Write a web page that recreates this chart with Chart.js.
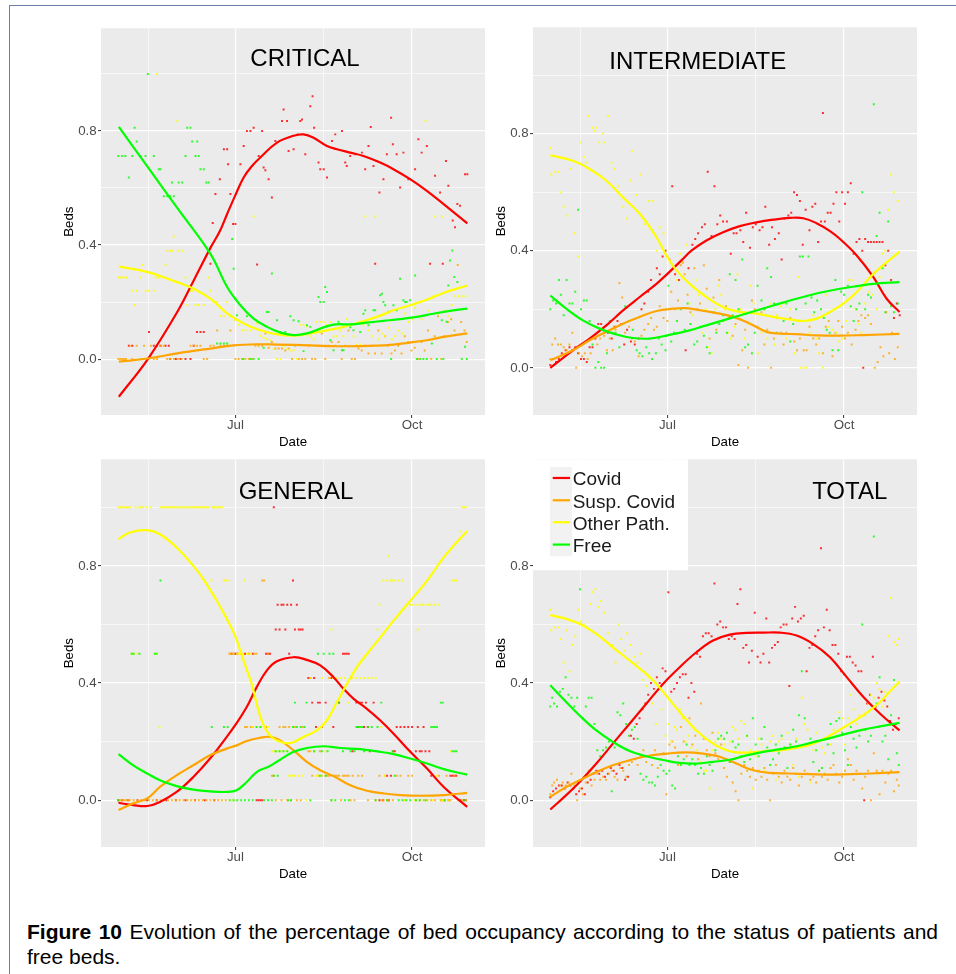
<!DOCTYPE html>
<html><head><meta charset="utf-8">
<script src="https://cdn.jsdelivr.net/npm/chart.js@4/dist/chart.umd.min.js"></script>
<style>
body{margin:0;background:#fff;width:956px;height:974px;position:relative;overflow:hidden;font-family:"Liberation Sans",Arial,sans-serif}
.frameTop{position:absolute;left:9px;top:5px;width:947px;height:1px;background:#6b7ea3}
.frameLeft{position:absolute;left:9px;top:5px;width:1px;height:969px;background:#6b7ea3}
canvas{position:absolute}
.cap{position:absolute;left:27px;width:911px;font-size:21px;line-height:24px;color:#000;white-space:nowrap}
.cap1{text-align:justify;text-align-last:justify;top:920px}
.cap2{top:945px}
</style></head><body>
<div class="frameTop"></div><div class="frameLeft"></div>
<div class="cap cap1"><b>Figure 10</b> Evolution of the percentage of bed occupancy according to the status of patients and</div>
<div class="cap cap2">free beds.</div>
<script>
// ---------- categories / ticks ----------
const seriesNames = ['Covid','Susp. Covid','Other Path.','Free'];
const seriesColors = ['#FF0000','#FFA500','#FFFF00','#00FF00'];
const pointColors = ['rgba(255,0,0,0.8)','rgba(255,165,0,0.8)','rgba(255,255,0,0.8)','rgba(0,255,0,0.8)'];
// x in days since 1 May
const xTickDays = [61,153];
const xTickLabels = ['Jul','Oct'];
const xMinorDays = [15.5,107];
const xRange = [-9,191];
const yMajor = [0,0.4,0.8];
const yMinor = [0.2,0.6,1.0];
const yRangeCrit = [-0.196,1.16];
const yRangeInter = [-0.161,1.163];
const yRangeGen = [-0.16,1.164];
const yRangeTot = [-0.16,1.164];

// ---------- CRITICAL ----------
const critCovidFit = [[0.3,-.132],[15.4,0],[30.7,.165],[39.3,.276],[48,.39],[53,.45],[56.7,.509],[61,.575],[65.3,.637],[70,.68],[74,.707],[82.7,.759],[91.3,.783],[96.5,.788],[101.7,.776],[108.7,.747],[113.9,.736],[120.8,.724],[127.7,.712],[136.4,.689],[143.3,.666],[152,.631],[160.7,.59],[169.3,.544],[181.8,.476]];
const critSuspFit = [[0.3,-.009],[15.4,.002],[30.7,.02],[48,.037],[60.1,.048],[72.3,.052],[82.7,.051],[100,.048],[117.3,.045],[134.7,.047],[143.3,.051],[152,.058],[160.7,.066],[169.3,.078],[181.8,.09]];
const critOtherFit = [[0.3,.325],[15.4,.305],[30.7,.27],[39.3,.247],[48,.212],[56.7,.16],[65.3,.125],[74,.101],[82.7,.087],[91.3,.082],[100,.09],[108.7,.101],[117.3,.113],[126,.13],[134.7,.148],[143.3,.171],[152,.189],[160.7,.208],[169.3,.232],[181.8,.258]];
const critFreeFit = [[0.3,.814],[15.4,.673],[30.7,.53],[48,.369],[56.7,.253],[63.6,.189],[70.5,.142],[77.5,.113],[84.4,.093],[91.3,.084],[98.3,.09],[105.2,.107],[112.1,.121],[120.8,.122],[129.5,.128],[138.1,.134],[146.8,.14],[155.5,.148],[164.1,.159],[172.8,.169],[181.8,.177]];
const critCovidPts = [[5.5,.047],[7.3,.047],[16,.095],[18.5,.047],[20,.047],[22,.047],[24.6,.047],[26.3,.047],[27,0],[30,0],[32.4,0],[35,0],[37.6,0],[39.3,.047],[41,.095],[42.8,.095],[44.5,.095],[48,.334],[49.2,.477],[50.6,.579],[52.9,.631],[55,.736],[56.7,.736],[57.2,.683],[58.4,.579],[59.8,.474],[61,.474],[63.6,.683],[65.3,.747],[67,.8],[68.8,.8],[70.5,.811],[72.3,.332],[73.1,.712],[74.9,.8],[75.7,.672],[76.6,.662],[78.3,.631],[80,.567],[81.8,.765],[85.3,.835],[86.1,.875],[87.9,.835],[88.7,.73],[91.3,.736],[93.4,.788],[94.8,.835],[95.7,.84],[97.4,.718],[100,.887],[101.2,.922],[102,.811],[104.3,.689],[105.2,.666],[107,.666],[108.7,.637],[111.3,.765],[113,.788],[116.5,.8],[118.2,.689],[119,.677],[120.8,.712],[123.4,.718],[126.9,.724],[128.6,.666],[130.3,.747],[131.5,.814],[132.9,.677],[133.8,.334],[134.7,.695],[136,.584],[138.1,.631],[139.9,.718],[142.1,.846],[143,.753],[145,.718],[146.8,.602],[148.5,.724],[151.1,.631],[154.6,.666],[156.3,.771],[158,.724],[160.7,.747],[162.4,.334],[165,.643],[167.6,.584],[169,.334],[170.7,.695],[171.9,.608],[174.2,.486],[175.4,.462],[176.6,.544],[178,.538],[180.6,.648],[181.8,.648]];
const critSuspPts = [[0,0],[1,0],[2,0],[3,0],[4,0],[6,.047],[7.3,0],[9.6,.047],[11.6,0],[13.4,.047],[15.4,0],[17,.047],[18.5,0],[20.2,0],[22,.047],[23.7,.047],[25.5,0],[27,0],[29,0],[31,0],[33,0],[37.6,.047],[39.3,.047],[41,.047],[42.8,.047],[44.5,0],[46.3,0],[48,.047],[49.7,.047],[51.5,.1],[53.2,.047],[55,.047],[56.7,.047],[58.4,.1],[61,0],[62.7,0],[64.4,0],[66.2,0],[68,0],[69.6,0],[71.4,.047],[73.1,.047],[74.9,.047],[76.6,.09],[78.3,.04],[80,.06],[81.8,.037],[83.5,.037],[85.3,.037],[87,.03],[88.7,.037],[90.5,0],[92.2,.047],[94,0],[95.7,0],[97.4,0],[99.1,.047],[100.9,0],[102.6,0],[104.3,.047],[106,.09],[107.8,0],[109.5,.047],[111.2,.06],[113,.047],[114.7,.06],[116.4,0],[118.2,.047],[119.9,.1],[121.6,0],[123.3,0],[125.1,.037],[126.8,.03],[128.5,.047],[130.3,.02],[132,.047],[133.7,.02],[135.4,.1],[137.2,.02],[138.9,.08],[140.6,.047],[142.3,.02],[144.1,.03],[145.8,.047],[147.5,.02],[149.2,.08],[151,.06],[152.7,.03],[154.4,.04],[156.1,0],[157.9,.06],[159.6,.03],[161.3,.1],[163,0],[164.8,.08],[166.5,.15],[168.2,0],[169.9,.08],[171.7,.13],[173.4,.14],[175.1,.1],[176.8,.33],[178.6,.13],[180.3,.1],[181.5,.06]];
const critOtherPts = [[0,.286],[1,.286],[2,.286],[3.7,.286],[4.5,.286],[7.3,.24],[8.5,.19],[9.6,.24],[11.6,.286],[12.5,.33],[14.2,.24],[16,.24],[18.5,.24],[19.4,.286],[20.2,1.0],[21.1,.286],[22.8,.286],[24.6,.33],[25.5,.38],[27,.38],[28,.38],[28.9,.43],[31.5,.38],[30.7,.835],[33.3,.38],[35,.286],[35.9,.19],[37.6,.24],[38.5,.24],[40.2,.19],[41.9,.19],[44.5,.19],[47.1,.286],[48,.24],[49.7,.2],[51.5,.2],[53.2,.15],[55,.15],[56.7,.2],[58.4,.15],[61,.136],[62.7,.12],[64.4,.1],[66.2,.101],[68.8,.1],[70.5,.5],[72.3,.125],[74,.082],[75.7,.075],[77.4,.07],[79.2,.065],[80.9,.035],[82.7,0],[84.4,0],[86.1,.045],[88,.035],[89.6,.03],[91.3,.03],[93,0],[95,.12],[96.5,.12],[98.3,.115],[100,.08],[101.7,.07],[103.4,.13],[105.2,.13],[107,.13],[108.7,.12],[110.4,.13],[112.1,.08],[113.8,.08],[115.6,.1],[117.3,.08],[119,.14],[120.8,.12],[122.5,.08],[124.2,.05],[126,.05],[127.7,.12],[128.6,.5],[130.3,.1],[132,.08],[133.8,.5],[135.5,.07],[137.3,.09],[139,.08],[140.7,.11],[142.4,.07],[144.2,.08],[146,.1],[147.7,.09],[149.4,.16],[151.1,.13],[152.9,.14],[154.6,.18],[156.3,.15],[158,.14],[160,.835],[161.6,.17],[163.3,.22],[165,.5],[166.7,.16],[168.5,.5],[170.2,.17],[172,.15],[173.7,.19],[175.4,.22],[177.1,.22],[179,.22],[181,.22]];
const critFreePts = [[0,.712],[2,.712],[3.7,.712],[5.5,.637],[7.3,.712],[8.5,.811],[9.6,.763],[11.6,.712],[14.2,.712],[15.4,1.0],[18.5,.712],[21.1,.666],[22,.666],[23.7,.571],[25.5,.571],[27,.571],[28.9,.571],[28,.619],[31.5,.619],[33.3,.619],[35,.712],[35.9,.811],[37.6,.811],[38.5,.763],[41.1,.763],[40.2,.712],[41.9,.712],[42.8,.666],[44.5,.666],[45.9,.619],[47.1,.619],[51.5,.055],[53.2,.055],[55,.055],[56.7,.055],[59.3,.421],[60.1,.317],[61,.212],[61.8,.154],[67,.15],[65.1,0],[68.8,0],[70.5,0],[73.1,0],[75.7,.04],[77.4,.165],[78.3,.165],[80,.3],[82.7,.136],[84.4,.095],[87,.095],[89.6,.15],[91.3,.136],[93.9,.133],[96.5,.028],[98.3,.119],[100,.113],[104.3,.218],[105.2,.2],[107,.2],[107.8,.253],[108.7,.235],[110.4,.066],[112.1,.031],[114.7,.131],[116.5,.031],[117.3,.031],[120.8,.112],[122.5,.101],[126,.095],[127.7,.159],[128.6,.171],[130.3,.119],[132.9,.171],[133.8,.171],[136.4,.224],[137.3,.229],[138.1,.2],[139,.189],[140.7,.166],[142.1,0],[143.3,.189],[145,.171],[146.8,.282],[148.5,.206],[149.4,.2],[150.2,.2],[152,.206],[154.6,.293],[155.5,0],[157.2,0],[158.9,0],[160.7,0],[163.3,.055],[165.9,0],[168.5,.136],[169.3,0],[171,.131],[171.9,.258],[172.8,.346],[174,.381],[175,.288],[176.6,.27],[178.9,0],[180.6,.043],[181.5,0]];

// ---------- INTERMEDIATE ----------
const interCovidFit = [[0,0],[11.8,.06],[20.5,.1],[29.2,.145],[37.9,.196],[46.6,.242],[55.3,.287],[61,.321],[68.3,.367],[73.5,.4],[81.3,.435],[90,.463],[98.7,.484],[107.4,.497],[116.1,.506],[124.8,.512],[131.8,.511],[138.7,.494],[145.7,.467],[150.9,.44],[159.6,.384],[168.3,.31],[175.2,.236],[181.9,.191]];
const interSuspFit = [[0,.026],[11.8,.06],[20.5,.094],[29.2,.123],[37.9,.151],[46.6,.174],[55.3,.194],[63.9,.202],[70,.204],[76.1,.199],[86.6,.187],[95.3,.174],[104,.151],[112.6,.123],[119.6,.117],[128.3,.115],[138.7,.111],[150.9,.11],[163.1,.112],[181.9,.116]];
const interOtherFit = [[0,.726],[11.8,.707],[20.5,.679],[29.2,.639],[37.9,.582],[46.6,.526],[55.3,.446],[61,.378],[65.7,.333],[72.6,.287],[81.3,.242],[90,.208],[98.7,.191],[107.4,.185],[116.1,.174],[124.8,.165],[131.8,.16],[138.7,.168],[145.7,.191],[152.6,.219],[159.6,.259],[168.3,.321],[181.9,.397]];
const interFreeFit = [[0,.247],[8.3,.202],[17,.162],[25.7,.134],[34.4,.114],[43.1,.102],[51.8,.1],[61,.111],[72.6,.128],[81.3,.145],[90,.162],[98.7,.179],[107.4,.196],[116.1,.213],[124.8,.23],[133.5,.245],[142.2,.259],[150.9,.27],[159.6,.279],[168.3,.287],[181.9,.293]];
const interCovidPts = [[0,.01],[1.5,.03],[3,.02],[4.5,.03],[6,.05],[8,.06],[10,.07],[11.5,.06],[13,.07],[14.5,.05],[16,.03],[17.5,.03],[19,.02],[20.5,.07],[22,.07],[23.5,.1],[25,.15],[26.5,.15],[28,.12],[30,.12],[32,.1],[33.5,.14],[35,.16],[37,.15],[38.5,.08],[40,.13],[42,.09],[44,.08],[46,.1],[47.5,.2],[49,.22],[51,.26],[52.5,.3],[54,.28],[55.5,.34],[57,.32],[58.5,.38],[60,.4],[62,.37],[63.5,.62],[65,.32],[67,.3],[69,.36],[70.5,.06],[72,.34],[74,.42],[75.5,.44],[77,.46],[79,.48],[80.5,.49],[82,.67],[84,.45],[85.5,.62],[87,.49],[88.5,.52],[90,.5],[92,.5],[94,.39],[95.5,.46],[97,.46],[99,.47],[100.5,.43],[102,.53],[104,.41],[105.5,.48],[107,.49],[109,.47],[110.5,.48],[112,.55],[114,.42],[115.5,.48],[117,.44],[119,.46],[120.5,.37],[122,.51],[124,.52],[125.5,.53],[127,.6],[128.5,.59],[130,.57],[131.5,.42],[133,.54],[135,.47],[136.5,.55],[138,.56],[139.5,.43],[141,.5],[142,.87],[143,.5],[144.5,.53],[146,.53],[147.5,.56],[149,.6],[150.5,.5],[152,.6],[153.5,.56],[155,.6],[156.5,.63],[158,.39],[159.5,.43],[161,.44],[162.5,.4],[163,0],[164,.44],[165.5,.43],[167,.43],[168.5,.43],[170,.43],[171.5,.43],[173,.43],[174.5,.35],[176,.4],[177.5,.3],[179,.17],[180.5,.22],[182,.18]];
const interSuspPts = [[0,.03],[1,.08],[2.5,.1],[4,.08],[5.5,.08],[7,.07],[8.5,.06],[10,.08],[11.5,.12],[13.5,0],[15,.05],[16.5,.04],[18,.05],[19.5,.03],[21,.05],[23,.1],[24.5,.08],[26,.1],[28,.11],[29.5,.06],[31,.1],[32.5,.06],[34,.13],[36,.29],[37.5,.24],[39,.12],[41,.14],[42.5,.1],[44,.09],[46,.04],[47.5,.11],[49,.13],[51,.15],[52.5,.17],[54,.13],[55.5,.14],[57,.21],[59,.17],[61,.16],[63,.26],[65,.2],[66.5,.23],[68,.35],[70,.32],[71.5,.25],[73,.19],[75,.34],[76.5,.2],[78,.22],[80,.35],[81.5,.27],[83,.1],[85,.24],[86.5,.13],[88,.3],[90,.16],[91.5,.21],[93,.17],[95,.11],[96.5,.15],[98,.01],[100,.06],[101.5,.13],[103,0],[105,.23],[106.5,.2],[108,.14],[110,.19],[111.5,.08],[113,.13],[115,0],[116.5,.1],[118,.17],[120,.12],[121.5,.08],[123,.12],[125,.17],[127,.09],[128.5,.06],[130,.1],[132,.06],[133.5,.06],[135,.14],[137,.1],[138.5,.08],[140,.1],[142,.05],[143.5,.14],[145,.16],[147,.04],[148.5,.12],[150,.16],[152,.14],[153.5,.1],[155,.12],[157,.08],[159,.13],[160.5,.16],[162,.18],[164,.17],[165.5,.18],[167,.15],[169,0],[170.5,.02],[172,.07],[173.5,.04],[175,.19],[176.5,.05],[178,.12],[179.5,.03],[181,.07]];
const interOtherPts = [[0,.75],[0.5,.66],[2.5,.67],[4,.67],[5.5,.6],[7,.55],[9,.52],[10.5,.68],[12.5,.46],[14.5,.38],[16,.77],[17.5,.72],[18.5,.7],[20,.86],[22,.82],[23,.81],[24,.82],[25.5,.77],[27.5,.8],[28.3,.77],[30,.86],[32,.7],[33.5,.68],[35.5,.62],[38,.55],[40,.51],[41.5,.64],[42.5,.74],[45,.59],[47,.66],[49,.49],[51.5,.57],[53.5,.57],[55.5,.4],[57,.48],[59,.46],[61,.38],[62.5,.36],[64,.34],[66,.3],[67.5,.39],[69,.36],[71,.42],[72.5,.22],[74,.18],[76,.3],[77.5,.25],[79,.12],[81,.2],[82.5,.07],[84,.05],[86,.2],[87.5,.28],[89,.25],[91,.2],[92.5,.12],[94,.1],[96,.14],[97.5,.32],[99,.2],[101,.1],[103,.15],[104.5,.28],[106,.22],[108,.05],[110,.12],[111.5,.2],[113,.1],[115,.22],[116.5,.08],[118,.18],[120,.21],[121.5,.22],[123,.1],[125,.2],[127,.05],[129,.31],[130.5,0],[132,0],[133.5,0],[135,.12],[137,.18],[138.5,.1],[140,.05],[142,0],[143.5,.25],[145,.14],[147,.13],[149,.12],[150.5,.09],[152,.1],[154,.16],[155.5,.3],[157,.3],[159,.2],[160.5,.15],[162,.12],[164,.22],[166,.26],[168,.25],[170,.2],[171.5,.31],[173,.39],[174.5,.4],[176,.54],[177.5,.66],[179,.6],[181,.57]];
const interFreePts = [[0,.2],[1.5,.23],[3,.22],[4.5,.3],[5.5,.25],[7,.18],[8.5,.3],[10,.22],[11.5,.22],[13,.26],[14.5,.54],[16,.2],[17.5,.23],[19,.23],[20.5,.16],[22,.08],[23.5,0],[25,.02],[26.5,0],[28,0],[29.5,.05],[31,.16],[32.5,.12],[34,.12],[36,.07],[37.5,.15],[39,.21],[41,.16],[43,.13],[45,.06],[46.5,.05],[48,.04],[50,.07],[51.5,.05],[53,.03],[55,.05],[56.5,.1],[58,.08],[60,.06],[61.5,.28],[63,.09],[64.5,.12],[66,.16],[68,.2],[70,.13],[71.5,.22],[73,.15],[75,.08],[76.5,.09],[78,.14],[80,.11],[81.5,.07],[83,.05],[85,.19],[86.5,.12],[88,.15],[90,.18],[92,.12],[93.5,.32],[95,.18],[96.5,.3],[98,.2],[100,.37],[101.5,.07],[103,.08],[105,.05],[106.5,.12],[108,.28],[110,.23],[111.5,.2],[113,.34],[115,.31],[116.5,.22],[118,.12],[120,.17],[121.5,.16],[123,.22],[125,.09],[126.5,.15],[128,.2],[130,.38],[131.5,.38],[133,.22],[134.5,.38],[136,.24],[137.5,.19],[139,.23],[141,.2],[142.5,.17],[144,.13],[145.5,.12],[147,.06],[148.5,.3],[150,.06],[151.5,.26],[153,.25],[155,.28],[156.5,.21],[158,.16],[159.5,.2],[161,.22],[162.5,.6],[164,.2],[165.5,.25],[167,.24],[168.5,.9],[170,.45],[171.5,.53],[173,.34],[174.5,.19],[176,.5],[177.5,.21],[179,.19],[181,.22]];

// ---------- GENERAL ----------
const genCovidFit = [[0.1,-.009],[7.8,-.017],[15.1,-.02],[21.7,-.006],[30.4,.028],[39.1,.079],[47.8,.142],[56.5,.216],[60.8,.255],[66.9,.318],[72.1,.386],[77.4,.443],[82.6,.474],[91.3,.488],[98.2,.479],[105.2,.46],[112.1,.42],[117.3,.38],[122.6,.346],[129.5,.312],[136.5,.272],[143.4,.227],[152.1,.165],[160.8,.108],[169.5,.045],[181.7,-.023]];
const genSuspFit = [[0.1,-.034],[7.8,-.011],[15.1,.006],[21.7,.045],[30.4,.085],[39.1,.119],[47.8,.153],[56.5,.176],[61.7,.187],[66.9,.202],[73.9,.213],[79.1,.216],[84.3,.204],[91.3,.17],[98.2,.131],[105.2,.102],[112.1,.082],[120.8,.051],[129.5,.032],[138.2,.023],[146.9,.017],[157.3,.015],[169.5,.017],[181.7,.025]];
const genOtherFit = [[0.1,.891],[6,.914],[15.1,.922],[21.7,.908],[30.4,.863],[39.1,.8],[44.3,.755],[51.3,.681],[56.5,.619],[60.8,.562],[65.2,.477],[69.5,.397],[72.1,.329],[74.7,.272],[78.2,.227],[82.6,.204],[89.5,.195],[96.5,.216],[103.4,.238],[108.6,.272],[113.9,.335],[119.1,.397],[124.3,.454],[129.5,.499],[136.5,.556],[143.4,.613],[152.1,.681],[160.8,.749],[169.5,.829],[181.7,.919]];
const genFreeFit = [[0.1,.157],[7.8,.119],[15.1,.091],[21.7,.068],[30.4,.048],[39.1,.036],[47.8,.03],[56.5,.028],[61.7,.034],[66.9,.062],[72.1,.096],[78.2,.114],[82.6,.131],[91.3,.165],[98.2,.178],[106.9,.184],[115.6,.178],[126,.174],[136.5,.165],[143.4,.157],[152.1,.142],[160.8,.125],[169.5,.106],[181.7,.087]];
const genCovidPts = [[0,0],[2,0],[5,0],[10,0],[15,0],[20,0],[25,0],[30,0],[35,0],[40,0],[45,0],[50,0],[58,.5],[59,.5],[60,.5],[61,.5],[62,.5],[64,.5],[66,.5],[68,.5],[70,.5],[72,0],[73,0],[74,0],[75,0],[77,.5],[78,.5],[79,.5],[81,1],[82,.583],[83,.667],[84,.583],[85,.667],[86,.667],[87,.583],[88,.667],[89,.5],[90,.667],[91,.75],[92,.583],[93,.667],[94,.583],[95,.583],[96,.583],[99,.417],[100,.417],[101,.333],[102,.417],[103,.25],[104,.333],[105,.333],[106,.25],[108,.333],[110,.417],[111,.417],[112,.25],[115,.333],[117,.5],[118,.5],[119,.5],[120,.5],[121,.417],[122,.167],[124,.333],[125,.25],[126,.333],[127,.333],[128,.25],[129,.333],[130,.25],[131,.167],[133,.333],[136,0],[138,0],[140,.083],[141,0],[142,.083],[143,.167],[144,.167],[145,.25],[147,.25],[149,.25],[151,.25],[152,.167],[153,.25],[155,.167],[156,.25],[157,.167],[158,.167],[159,.25],[160,.167],[162,.167],[163,.083],[168,0],[170,0],[172,0],[173,.083],[174,.083],[175,.083],[176,.083],[178,0],[180,0],[181,0]];
const genSuspPts = [[0,0],[1,0],[2,0],[3,0],[4,0],[5,0],[6,0],[8,0],[10,0],[12,0],[14,0],[16,0],[18,0],[20,0],[22,0],[24,0],[26,0],[28,0],[30,0],[32,0],[34,0],[36,0],[38,0],[40,0],[42,0],[44,0],[46,0],[48,0],[50,0],[52,0],[54,0],[56,0],[59,.5],[62,.5],[64,.5],[66,.25],[67,.25],[68,.5],[69,.25],[70,.25],[71,.5],[72,.5],[74,.25],[75,.75],[76,.75],[77,.25],[78,.5],[80,.083],[81,.083],[82,0],[84,.25],[85,0],[86,.25],[87,.25],[88,0],[89,.25],[90,0],[92,.25],[93,0],[95,0],[96,.25],[99,.167],[100,.167],[101,.083],[102,.167],[104,.083],[105,.167],[106,.083],[108,.083],[109,.083],[110,.083],[111,0],[112,.083],[113,.083],[114,.083],[115,.083],[116,0],[117,.083],[118,.083],[119,.083],[120,.083],[121,0],[122,.083],[123,0],[125,.083],[127,.083],[130,0],[134,0],[136,.083],[137,0],[138,0],[139,.083],[140,0],[141,0],[143,0],[145,.083],[147,.083],[149,0],[151,.083],[153,.083],[155,0],[157,0],[159,0],[161,0],[163,0],[165,0],[167,.083],[169,0],[171,.083],[173,0],[175,.083],[177,0],[179,0],[181,0]];
const genOtherPts = [[0,1],[1,1],[2,1],[3,1],[4,1],[5,1],[6,1],[7,.5],[8,.5],[9,1],[10,.5],[11,1],[12,1],[13,1],[15,1],[17,1],[19,.5],[20,.5],[21.5,.25],[22,1],[23,1],[24,1],[25,1],[26,1],[27,1],[28,1],[29,1],[30,1],[31,1],[32,1],[33,1],[34,1],[35,1],[36,1],[37,1],[38,1],[39,1],[40,1],[41,1],[42,1],[43,1],[44,1],[45,1],[46,1],[47,1],[48.5,.75],[49,1],[50,1],[51,1],[52,1],[53,1],[54,1],[55,.75],[56,.75],[57,.75],[58,.5],[59,0],[60,.5],[61,0],[62,.5],[63,.5],[64,.5],[65,.5],[66,.75],[67,.5],[68,.5],[69,.5],[70,.25],[72,.25],[74,.25],[76,.25],[78,.25],[80,.167],[81,.167],[82,.167],[84,.167],[86,.167],[88,.167],[89,.083],[90,.083],[91,.083],[92,.083],[94,.083],[96,.083],[98,0],[100,.417],[102,.167],[103,.083],[104,.083],[105,.083],[106,.417],[108,.167],[110,.417],[111,.583],[112,.417],[114,.417],[116,.417],[118,.417],[120,.333],[121,.417],[122,.417],[124,.417],[126,.417],[128,.417],[130,.417],[132,.417],[134,.417],[135,.583],[136,.667],[137,.25],[138,.75],[139,.083],[140,.75],[141,.833],[142,.75],[143,.75],[144,.75],[146,.75],[148,.75],[149,0],[150,.667],[151,.167],[152,.667],[153,.667],[154,0],[155,.667],[156,.583],[157,.667],[158,.667],[159,.667],[160,0],[161,.667],[162,.667],[163,.667],[164,0],[165,.667],[166,.083],[167,.667],[168,0],[169,0],[170,0],[172,0],[173,.167],[174,.75],[175,.75],[176,.75],[177,0],[178,.917],[179,1],[180,1],[181,1]];
const genFreePts = [[0,0],[7,.5],[8,.5],[11,.5],[19,.5],[20,.5],[22,.75],[48.7,.25],[55,.25],[57,.25],[58,0],[60,0],[62,0],[64,0],[66,0],[68,0],[70,0],[72,.25],[74,.25],[76,0],[78,0],[80,0],[81,.083],[82,.167],[83,.083],[84,.167],[86,.167],[88,.167],[88.5,0],[90,0],[91,.25],[92,.333],[93,.25],[95,.25],[97,.25],[98,.333],[100,0],[102,.167],[104,.5],[105,.083],[106,.167],[107,.5],[108,.083],[109,.167],[110,.5],[111,0],[112,.5],[113,0],[115,.333],[117,.167],[118,0],[120,0],[121,.167],[123,.167],[124,.25],[125,.25],[126,.25],[127,.25],[128,.167],[130,.25],[132,.25],[134,0],[135,.25],[137,.333],[140,0],[143,.167],[144,.083],[146,0],[148,0],[150,0],[152,0],[155,0],[157,0],[160,0],[163,.25],[164,.25],[165,.25],[166,.25],[168,.333],[169,.333],[170,0],[174,.167],[175,.167],[176,.167],[180,0]];

// ---------- TOTAL ----------
const totCovidFit = [[0,-.032],[8.3,.017],[15.3,.062],[24,.125],[32.6,.193],[41.3,.261],[50,.329],[58.7,.397],[67.4,.454],[76.1,.505],[84.8,.545],[93.5,.565],[102.2,.571],[110.9,.572],[119.6,.572],[128.3,.562],[137,.533],[145.7,.488],[154.4,.42],[163.1,.352],[171.8,.295],[181.9,.238]];
const totSuspFit = [[0,.011],[8.3,.045],[15.3,.068],[24,.096],[32.6,.119],[41.3,.136],[50,.15],[61,.159],[70,.163],[79.6,.159],[88.3,.148],[96.9,.125],[105.7,.102],[114.4,.093],[124.8,.091],[135.3,.089],[145.7,.087],[156.2,.089],[166.6,.091],[181.9,.096]];
const totOtherFit = [[0,.632],[8.3,.619],[15.3,.602],[24,.568],[32.6,.522],[41.3,.477],[50,.431],[55.3,.397],[61,.352],[67.4,.301],[76.1,.238],[84.8,.193],[93.5,.167],[102.2,.162],[110.9,.167],[119.6,.17],[128.3,.178],[137,.193],[145.7,.221],[154.4,.255],[163.1,.29],[171.8,.335],[176,.365],[181.9,.405]];
const totFreeFit = [[0,.392],[8.3,.335],[15.3,.289],[24,.238],[32.6,.199],[41.3,.168],[50,.15],[61,.134],[67.4,.127],[76.1,.125],[84.8,.131],[93.5,.138],[102.2,.153],[110.9,.165],[119.6,.174],[128.3,.184],[137,.198],[145.7,.212],[154.4,.227],[163.1,.241],[171.8,.252],[181.9,.264]];
const totCovidPts = [[0,.01],[1.5,.03],[3,.04],[4.5,.05],[6,.05],[7.5,.04],[9,.06],[10.5,.05],[12,.04],[13.5,.02],[15,.03],[16.5,.04],[18,.02],[19.5,.06],[21,.07],[22.5,.09],[24,.1],[25.5,.09],[27,.1],[28.5,.08],[30,.09],[31.5,.11],[33,.1],[34.5,.09],[36,.12],[37.5,.11],[39,.07],[40.5,.08],[42,.22],[43.5,.21],[45,.26],[46.5,.28],[48,.31],[49.5,.33],[51,.36],[52.5,.4],[54,.38],[55.5,.42],[57,.4],[58.5,.45],[60,.44],[61.5,.71],[63,.37],[64.5,.38],[66,.4],[67.5,.42],[69,.43],[70.5,.43],[72,.35],[73.5,.4],[75,.37],[76.5,.5],[78,.49],[79.5,.56],[81,.57],[82.5,.57],[84,.56],[85.5,.74],[87,.6],[88.5,.61],[90,.59],[91.5,.59],[93,.55],[94.5,.56],[96,.55],[97.5,.67],[99,.72],[100.5,.52],[102,.53],[103.5,.47],[105,.51],[106.5,.64],[108,.49],[109.5,.47],[111,.5],[112.5,.62],[114,.47],[115.5,.52],[117,.53],[118.5,.54],[120,.59],[121.5,.6],[123,.6],[124.5,.39],[126,.62],[127.5,.66],[129,.61],[130.5,.62],[132,.63],[133.5,.44],[135,.52],[136.5,.53],[138,.56],[139.5,.58],[141,.86],[142.5,.59],[144,.65],[145.5,.58],[147,.53],[148.5,.53],[150,.5],[151.5,.44],[153,.43],[154.5,.49],[156,.49],[157.5,.47],[159,.46],[160.5,.44],[162,.44],[163.5,0],[165,.33],[166.5,.36],[168,.49],[169.5,.32],[171,.35],[172.5,.37],[174,.34],[175.5,.32],[177,.27],[178.5,.24],[180,.26],[181.5,.28]];
const totSuspPts = [[0,.02],[1,.05],[2,.06],[3.5,.07],[5,.05],[6.5,.06],[8,.05],[9.5,.06],[11,.09],[12.5,.05],[14,0],[15.5,.04],[17,.02],[18.5,.06],[20,.1],[21.5,.05],[23,.07],[24.5,.09],[26,.07],[27.5,.08],[29,.07],[30.5,.09],[32,.1],[33.5,.08],[35,.07],[36.5,.11],[38,.1],[39.5,.08],[41,.12],[42.5,.13],[44,.14],[45.5,.12],[47,.15],[48.5,.17],[50,.13],[51.5,.15],[53,.12],[54.5,.17],[56,.11],[57.5,.14],[59,.16],[60.5,.02],[62,.19],[63.5,.2],[65,.18],[66.5,.12],[68,.25],[69.5,.2],[71,.15],[72.5,.28],[74,.19],[75.5,.22],[77,.14],[78.5,.33],[80,.21],[81.5,.17],[83,.15],[84.5,.23],[86,.16],[87.5,.14],[89,.19],[90.5,.11],[92,.08],[93.5,.13],[95,.06],[96.5,.03],[98,0],[99.5,.09],[101,.12],[102.5,.1],[104,.08],[105.5,.11],[107,.07],[108.5,.1],[110,.08],[111.5,.11],[113,.07],[114.5,0],[116,.09],[117.5,.12],[119,.08],[120.5,.06],[122,.1],[123.5,.08],[125,.07],[126.5,.11],[128,.09],[129.5,.05],[131,.08],[132.5,.1],[134,.09],[135.5,.07],[137,.08],[138.5,.06],[140,.1],[141.5,.08],[143,.09],[144.5,.07],[146,.11],[147.5,.12],[149,.09],[150.5,.06],[152,.08],[153.5,.1],[155,.14],[156.5,.12],[158,.07],[159.5,.1],[161,.09],[162.5,.04],[164,.08],[165.5,.1],[167,0],[168.5,.16],[170,.1],[171.5,.02],[173,.1],[174.5,.06],[176,.09],[177.5,.1],[179,.03],[180.5,.07],[181.5,.05]];
const totOtherPts = [[0,.65],[0.5,.58],[2.5,.59],[4,.59],[5.5,.55],[7,.47],[8.5,.58],[10,.44],[11.5,.53],[13,.56],[14.5,.65],[16,.61],[17.5,.6],[19,.59],[21,.67],[22,.71],[23.5,.72],[25,.66],[26.5,.68],[28,.64],[30,.57],[32.5,.53],[34,.47],[35.5,.6],[37,.55],[38.5,.51],[40,.57],[42,.53],[44,.49],[45.5,.47],[47,.5],[48.5,.41],[50,.39],[51.5,.42],[53,.33],[55,.26],[56.5,.38],[58,.31],[60,.22],[61.5,.26],[63,.2],[64.5,.25],[66,.24],[67.5,.31],[69,.28],[70.5,.2],[72,.22],[73.5,.18],[75,.24],[76.5,.17],[78,.13],[80,.1],[81.5,.1],[83,.04],[84.5,.17],[86,.2],[87.5,.23],[89,.21],[90.5,.19],[92,.14],[93.5,.2],[95,.25],[96.5,.24],[98,.21],[99.5,.27],[101,.26],[102.5,.22],[104,.17],[105.5,.04],[107,.15],[108.5,.21],[110,.19],[111.5,.1],[113,.17],[114.5,.2],[116,.22],[117.5,.07],[119,.2],[120.5,.21],[122,.18],[123.5,.23],[125,.19],[126.5,.12],[128,.21],[129.5,.08],[131,.35],[132.5,.26],[134,.24],[135.5,.06],[137,.17],[138.5,.23],[140,.2],[141.5,.18],[143,.16],[144.5,.21],[146,.19],[147.5,.24],[149,.22],[150.5,.3],[152,.28],[153.5,.19],[155,.28],[156.5,.36],[158,.31],[159.5,.26],[161,.29],[162.5,.24],[164,.29],[165.5,.33],[167,.36],[168.5,.35],[170,.4],[171.5,.38],[173,.32],[174.5,.37],[176,.56],[177.5,.69],[179,.54],[180.5,.53],[181.5,.55]];
const totFreePts = [[0,.32],[1,.35],[2,.33],[3.5,.32],[5,.37],[6.5,.38],[8,.42],[9.5,.36],[11,.35],[12.5,.32],[14,.35],[15.5,.72],[17,.28],[18.5,.32],[20,.35],[21.5,.35],[23,.26],[24.5,.17],[26,.15],[27.5,.17],[29,.18],[30.5,.2],[32,.03],[33.5,.18],[35,.3],[36.5,.29],[38,.33],[39.5,.26],[41,.22],[42.5,.24],[44,.25],[45.5,.21],[47,.09],[48.5,.07],[50,.08],[51.5,.06],[53,.06],[54.5,.05],[56,.08],[57.5,.12],[59,.1],[60.5,.09],[62,.1],[63.5,.05],[65,.04],[66.5,.15],[68,.12],[69.5,.14],[71,.19],[72.5,.12],[74,.14],[75.5,.12],[77,.09],[78.5,.11],[80,.09],[81.5,.15],[83,.12],[84.5,.1],[86,.17],[87.5,.21],[89,.22],[90.5,.21],[92,.23],[93.5,.13],[95,.2],[96.5,.18],[98,.19],[99.5,.15],[101,.13],[102.5,.22],[104,.14],[105.5,.28],[107,.19],[108.5,.15],[110,.21],[111.5,.25],[113,.18],[114.5,.12],[116,.14],[117.5,.19],[119,.16],[120.5,.22],[122,.18],[123.5,.11],[125,.19],[126.5,.24],[128,.2],[129.5,.29],[131,.44],[132.5,.28],[134,.19],[135.5,.21],[137,.13],[138.5,.17],[140,.1],[141.5,.11],[143,.21],[144.5,.19],[146,.26],[147.5,.16],[149,.27],[150.5,.28],[152,.23],[153.5,.17],[155,.12],[156.5,.25],[158,.21],[159.5,.18],[161,.22],[162.5,.6],[164,.24],[165.5,.2],[167,.22],[168.5,.9],[170,.33],[171.5,.42],[173,.2],[174.5,.22],[176,.14],[177.5,.29],[179,.41],[180.5,.16],[181.5,.12]];

// ---------- layout (page pixels) ----------
const FONT = '"Liberation Sans", Arial, sans-serif';
const panels = [
  {title:'CRITICAL', area:[101,27,485,415], titleAt:[204,37.3], yr:yRangeCrit,
   fits:[critCovidFit,critSuspFit,critOtherFit,critFreeFit], pts:[critCovidPts,critSuspPts,critOtherPts,critFreePts]},
  {title:'INTERMEDIATE', area:[533,26,917,415], titleAt:[164.7,41.3], yr:yRangeInter,
   fits:[interCovidFit,interSuspFit,interOtherFit,interFreeFit], pts:[interCovidPts,interSuspPts,interOtherPts,interFreePts]},
  {title:'GENERAL', area:[101,458,485,847], titleAt:[195,39.3], yr:yRangeGen,
   fits:[genCovidFit,genSuspFit,genOtherFit,genFreeFit], pts:[genCovidPts,genSuspPts,genOtherPts,genFreePts]},
  {title:'TOTAL', area:[533,458,917,847], titleAt:[316.7,39.3], yr:yRangeTot, legend:true,
   fits:[totCovidFit,totSuspFit,totOtherFit,totFreeFit], pts:[totCovidPts,totSuspPts,totOtherPts,totFreePts]}
];

const toXY = a => a.map(([x,y]) => ({x, y}));
const near = (v, arr) => arr.some(a => Math.abs(a - v) < 1e-6);

function makePanel(p){
  const [L,T,R,B] = p.area;
  const W = R - L + 90, H = B - T + 53;
  const cv = document.createElement('canvas');
  cv.width = W; cv.height = H;
  cv.style.left = (L - 80) + 'px'; cv.style.top = (T - 8) + 'px';
  cv.style.width = W + 'px'; cv.style.height = H + 'px';
  document.body.appendChild(cv);

  const datasets = [];
  p.fits.forEach((f, i) => datasets.push({
    label: seriesNames[i], data: toXY(f), showLine: true, borderColor: seriesColors[i],
    backgroundColor: seriesColors[i], borderWidth: 2.2, pointRadius: 0, tension: 0.4,
    cubicInterpolationMode: 'default', order: 3 - i
  }));
  p.pts.forEach((s, i) => datasets.push({
    label: seriesNames[i] + ' pts', data: toXY(s), showLine: false, backgroundColor: pointColors[i],
    borderWidth: 0, pointRadius: 1.4, pointStyle: 'rect', order: 13 - i
  }));

  const deco = {
    id: 'deco',
    beforeDraw(chart){
      const a = chart.chartArea, c = chart.ctx;
      c.save(); c.fillStyle = '#EBEBEB'; c.fillRect(a.left, a.top, a.right - a.left, a.bottom - a.top); c.restore();
    },
    afterDraw(chart){
      const a = chart.chartArea, c = chart.ctx;
      c.save();
      if (p.legend) {
        c.fillStyle = '#FFFFFF'; c.fillRect(a.left, a.top, 155, 111);
        c.fillStyle = '#F2F2F2'; c.fillRect(a.left + 17, a.top + 7.7, 22, 89.3);
        const rows = [18.7, 41, 63, 85.3];
        seriesNames.forEach((n, i) => {
          c.strokeStyle = seriesColors[i]; c.lineWidth = 2.2;
          c.beginPath(); c.moveTo(a.left + 19.7, a.top + rows[i]); c.lineTo(a.left + 37, a.top + rows[i]); c.stroke();
          c.fillStyle = '#1A1A1A'; c.font = '19px ' + FONT; c.textAlign = 'left'; c.textBaseline = 'alphabetic';
          c.fillText(n, a.left + 39.7, a.top + rows[i] + 7.3);
        });
      }
      c.fillStyle = '#000'; c.font = '24px ' + FONT; c.textAlign = 'center'; c.textBaseline = 'alphabetic';
      c.fillText(p.title, a.left + p.titleAt[0], a.top + p.titleAt[1]);
      c.font = '13.3px ' + FONT;
      c.fillText('Date', (a.left + a.right) / 2, a.bottom + 31);
      c.translate(a.left - 27.7, (a.top + a.bottom) / 2); c.rotate(-Math.PI / 2);
      c.fillText('Beds', 0, 0);
      c.restore();
    }
  };

  new Chart(cv, {
    type: 'scatter',
    data: { datasets },
    plugins: [deco],
    options: {
      responsive: false, animation: false, devicePixelRatio: 1,
      layout: { padding: { left: 0, top: 8, right: 10, bottom: 0 } },
      plugins: { legend: { display: false }, tooltip: { enabled: false } },
      scales: {
        x: {
          type: 'linear', min: xRange[0], max: xRange[1],
          afterFit(s){ s.height = 45; },
          afterBuildTicks(s){ s.ticks = [...xMinorDays, ...xTickDays].sort((a,b)=>a-b).map(v => ({value: v})); },
          ticks: { autoSkip: false, maxRotation: 0, color: '#4D4D4D', padding: 0.5,
                   font: { family: FONT, size: 13.3, lineHeight: 1 },
                   callback: v => { const i = xTickDays.findIndex(d => Math.abs(d - v) < 1e-6); return i >= 0 ? xTickLabels[i] : ''; } },
          grid: { color: '#FFFFFF', drawTicks: true, tickLength: 3, tickWidth: 1,
                  lineWidth: ctx => (ctx.tick && near(ctx.tick.value, xTickDays)) ? 1.2 : 0.6,
                  tickColor: ctx => (ctx.tick && near(ctx.tick.value, xTickDays)) ? '#333333' : 'rgba(0,0,0,0)' },
          border: { display: false }
        },
        y: {
          type: 'linear', min: p.yr[0], max: p.yr[1],
          afterFit(s){ s.width = 80; },
          afterBuildTicks(s){ s.ticks = [...yMajor, ...yMinor].sort((a,b)=>a-b).filter(v => v >= p.yr[0] && v <= p.yr[1]).map(v => ({value: v})); },
          ticks: { autoSkip: false, color: '#4D4D4D', padding: 1.3,
                   font: { family: FONT, size: 13.3 },
                   callback: v => near(v, yMajor) ? v.toFixed(1) : '' },
          grid: { color: '#FFFFFF', drawTicks: true, tickLength: 3, tickWidth: 1,
                  lineWidth: ctx => (ctx.tick && near(ctx.tick.value, yMajor)) ? 1.2 : 0.6,
                  tickColor: ctx => (ctx.tick && near(ctx.tick.value, yMajor)) ? '#333333' : 'rgba(0,0,0,0)' },
          border: { display: false }
        }
      }
    }
  });
}
panels.forEach(makePanel);
</script>
</body></html>
